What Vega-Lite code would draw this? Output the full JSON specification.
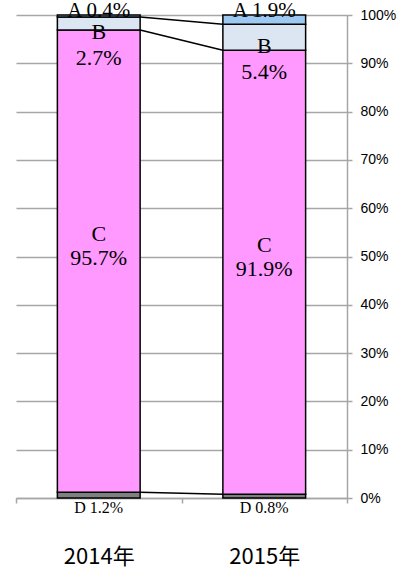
{
  "$schema": "https://vega.github.io/schema/vega-lite/v6.json",
  "width": 331,
  "height": 483,
  "autosize": "none",
  "padding": {"left": 16, "top": 15, "right": 62, "bottom": 79},
  "background": "white",
  "config": {"view": {"stroke": null}},
  "data": {
    "values": [
      {"Year": "2014年", "Segment": "D", "Order": 1, "Value": 1.2},
      {"Year": "2014年", "Segment": "C", "Order": 2, "Value": 95.7},
      {"Year": "2014年", "Segment": "B", "Order": 3, "Value": 2.7},
      {"Year": "2014年", "Segment": "A", "Order": 4, "Value": 0.4},
      {"Year": "2015年", "Segment": "D", "Order": 1, "Value": 0.8},
      {"Year": "2015年", "Segment": "C", "Order": 2, "Value": 91.9},
      {"Year": "2015年", "Segment": "B", "Order": 3, "Value": 5.4},
      {"Year": "2015年", "Segment": "A", "Order": 4, "Value": 1.9}
    ]
  },
  "transform": [
    {"stack": "Value", "groupby": ["Year"], "sort": [{"field": "Order", "order": "ascending"}], "as": ["v0", "v1"]},
    {"calculate": "(datum.v0 + datum.v1) / 2", "as": "mid"},
    {"calculate": "format(datum.Value, '.1f') + '%'", "as": "pct"},
    {"calculate": "datum.Segment + ' ' + format(datum.Value, '.1f') + '%'", "as": "full"}
  ],
  "encoding": {
    "x": {
      "field": "Year",
      "type": "nominal",
      "sort": null,
      "scale": {"paddingInner": 0, "paddingOuter": 0},
      "axis": {
        "title": null,
        "orient": "bottom",
        "labelAngle": 0,
        "domainColor": "#A6A6A6",
        "domainWidth": 1.5,
        "tickColor": "#A6A6A6",
        "tickWidth": 1.5,
        "tickSize": 5,
        "tickBand": "extent",
        "labelFont": "Noto Sans CJK JP",
        "labelFontSize": 22,
        "labelColor": "black",
        "labelPadding": 43
      }
    }
  },
  "layer": [
    {
      "transform": [
        {"filter": "datum.Segment != 'A'"},
        {"pivot": "Year", "value": "v1", "groupby": ["Segment"]}
      ],
      "mark": {"type": "rule", "color": "black", "strokeWidth": 1.5},
      "encoding": {
        "x": {"datum": "2014年", "type": "nominal", "bandPosition": 0.75},
        "x2": {"datum": "2015年", "bandPosition": 0.25},
        "y": {"field": "2014年", "type": "quantitative"},
        "y2": {"field": "2015年"}
      }
    },
    {
      "mark": {"type": "bar", "stroke": "black", "strokeWidth": 1.5, "width": {"band": 0.5}},
      "encoding": {
        "y": {
          "field": "v1",
          "type": "quantitative",
          "scale": {"domain": [0, 100]},
          "axis": {
            "title": null,
            "orient": "right",
            "values": [0, 10, 20, 30, 40, 50, 60, 70, 80, 90, 100],
            "labelExpr": "datum.value + '%'",
            "grid": true,
            "gridColor": "#A6A6A6",
            "gridWidth": 1.5,
            "domainColor": "#A6A6A6",
            "domainWidth": 1.5,
            "tickColor": "#A6A6A6",
            "tickWidth": 1.5,
            "tickSize": 5,
            "labelFont": "Liberation Sans",
            "labelFontSize": 14,
            "labelColor": "black",
            "labelPadding": 8
          }
        },
        "y2": {"field": "v0"},
        "color": {
          "field": "Segment",
          "type": "nominal",
          "scale": {"domain": ["A", "B", "C", "D"], "range": ["#9DC8F2", "#DCE6F2", "#FF99FF", "#808080"]},
          "legend": null
        }
      }
    },
    {
      "transform": [{"filter": "datum.Segment == 'A'"}],
      "mark": {"type": "text", "font": "Liberation Serif", "fontSize": 21, "baseline": "alphabetic", "dy": 2, "color": "black"},
      "encoding": {"y": {"field": "v1", "type": "quantitative"}, "text": {"field": "full"}}
    },
    {
      "transform": [{"filter": "datum.Segment == 'D'"}],
      "mark": {"type": "text", "font": "Liberation Serif", "fontSize": 16, "baseline": "alphabetic", "dy": 15, "color": "black"},
      "encoding": {"y": {"field": "v0", "type": "quantitative"}, "text": {"field": "full"}}
    },
    {
      "transform": [{"filter": "datum.Segment == 'B'"}],
      "mark": {"type": "text", "font": "Liberation Serif", "fontSize": 22, "baseline": "alphabetic", "dy": 16, "color": "black"},
      "encoding": {"y": {"field": "mid", "type": "quantitative"}, "text": {"field": "Segment"}}
    },
    {
      "transform": [{"filter": "datum.Segment == 'B'"}],
      "mark": {"type": "text", "font": "Liberation Serif", "fontSize": 22, "baseline": "alphabetic", "dy": 42, "color": "black"},
      "encoding": {"y": {"field": "mid", "type": "quantitative"}, "text": {"field": "pct"}}
    },
    {
      "transform": [{"filter": "datum.Segment == 'C'"}],
      "mark": {"type": "text", "font": "Liberation Serif", "fontSize": 22, "baseline": "alphabetic", "dy": -20, "color": "black"},
      "encoding": {"y": {"field": "mid", "type": "quantitative"}, "text": {"field": "Segment"}}
    },
    {
      "transform": [{"filter": "datum.Segment == 'C'"}],
      "mark": {"type": "text", "font": "Liberation Serif", "fontSize": 22, "baseline": "alphabetic", "dy": 4, "color": "black"},
      "encoding": {"y": {"field": "mid", "type": "quantitative"}, "text": {"field": "pct"}}
    }
  ]
}
